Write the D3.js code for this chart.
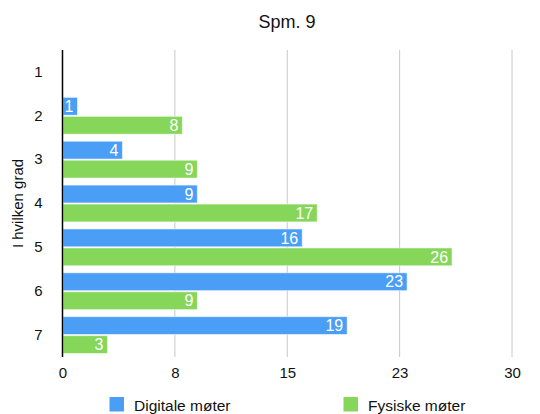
<!DOCTYPE html>
<html>
<head>
<meta charset="utf-8">
<script src="https://cdn.jsdelivr.net/npm/d3@7"></script>
<style>
  html, body { margin: 0; padding: 0; background: #fff; }
  svg { display: block; font-family: "Liberation Sans", Arial, Helvetica, sans-serif; }
</style>
</head>
<body>
<svg id="chart" width="540" height="414"></svg>
<script>
// Survey question 9: answers on a 1–7 scale, per meeting type
const categories = ["1", "2", "3", "4", "5", "6", "7"];
const digitale = [0, 1, 4, 9, 16, 23, 19];
const fysiske = [0, 8, 9, 17, 26, 9, 3];
const seriesNames = ["Digitale møter", "Fysiske møter"];
const seriesColors = ["#4A9EF6", "#86D65A"];
const tickValues = [0, 7.5, 15, 22.5, 30];
const tickLabels = ["0", "8", "15", "23", "30"];

const svg = d3.select("#chart");
const margin = { top: 50, right: 28, bottom: 57, left: 62.5 };
const W = 540, H = 414;
const plotW = W - margin.left - margin.right;
const plotH = H - margin.top - margin.bottom;

const x = d3.scaleLinear().domain([0, 30]).range([0, plotW]);
const y = d3.scaleBand().domain(categories).range([0, plotH]).paddingInner(0.16).paddingOuter(0.08);
const sub = d3.scaleBand().domain([0, 1]).range([0, y.bandwidth()]).paddingInner(0.06);

const g = svg.append("g").attr("transform", `translate(${margin.left},${margin.top})`);

// Title
svg.append("text")
  .attr("x", 287).attr("y", 28)
  .attr("text-anchor", "middle")
  .attr("font-size", 18)
  .attr("fill", "#111")
  .text("Spm. 9");

// Vertical grid lines
g.selectAll(".grid")
  .data(tickValues.slice(1))
  .join("line")
  .attr("x1", d => x(d)).attr("x2", d => x(d))
  .attr("y1", 0).attr("y2", plotH)
  .attr("stroke", "#c8c8c8").attr("stroke-width", 1);

// Bars
const rows = categories.map((c, i) => ({ cat: c, vals: [digitale[i], fysiske[i]] }));
const groups = g.selectAll(".row").data(rows).join("g")
  .attr("transform", d => `translate(0,${y(d.cat)})`);

groups.each(function (d) {
  const grp = d3.select(this);
  d.vals.forEach((v, s) => {
    if (v <= 0) return;
    grp.append("rect")
      .attr("x", 0.5)
      .attr("y", sub(s))
      .attr("width", x(v) - 0.5)
      .attr("height", sub.bandwidth())
      .attr("fill", seriesColors[s])
      .attr("stroke", "rgba(255,255,255,0.55)")
      .attr("stroke-width", 1);
    grp.append("text")
      .attr("x", x(v) - 4)
      .attr("y", sub(s) + sub.bandwidth() / 2)
      .attr("dy", "0.36em")
      .attr("text-anchor", "end")
      .attr("font-size", 16)
      .attr("fill", "#fff")
      .text(v);
  });
});

// Baseline axis line
g.append("line")
  .attr("x1", 0).attr("x2", 0)
  .attr("y1", 0).attr("y2", plotH)
  .attr("stroke", "#000").attr("stroke-width", 1.5);

// Category labels
const yAxis = d3.axisLeft(y).tickSize(0).tickPadding(20);
const yg = g.append("g").call(yAxis);
yg.select(".domain").remove();
yg.selectAll("text")
  .attr("font-size", 15)
  .attr("fill", "#111")
  .attr("font-family", "Liberation Sans, Arial, sans-serif");

// Value axis labels
const xAxis = d3.axisBottom(x).tickValues(tickValues).tickSize(0).tickPadding(10)
  .tickFormat((d, i) => tickLabels[i]);
const xg = g.append("g").attr("transform", `translate(0,${plotH})`).call(xAxis);
xg.select(".domain").remove();
xg.selectAll("text")
  .attr("font-size", 15)
  .attr("fill", "#111")
  .attr("font-family", "Liberation Sans, Arial, sans-serif");

// Axis title
svg.append("text")
  .attr("transform", `translate(23,${margin.top + plotH / 2}) rotate(-90)`)
  .attr("text-anchor", "middle")
  .attr("font-size", 15)
  .attr("fill", "#111")
  .text("I hvilken grad");

// Legend
const legendX = [109.5, 343.5];
seriesNames.forEach((name, i) => {
  const lg = svg.append("g").attr("transform", `translate(${legendX[i]},397)`);
  lg.append("rect").attr("width", 14.5).attr("height", 14.5).attr("fill", seriesColors[i]);
  lg.append("text")
    .attr("x", 24.5).attr("y", 13.5)
    .attr("font-size", 15.5)
    .attr("fill", "#111")
    .text(name);
});
</script>
</body>
</html>
